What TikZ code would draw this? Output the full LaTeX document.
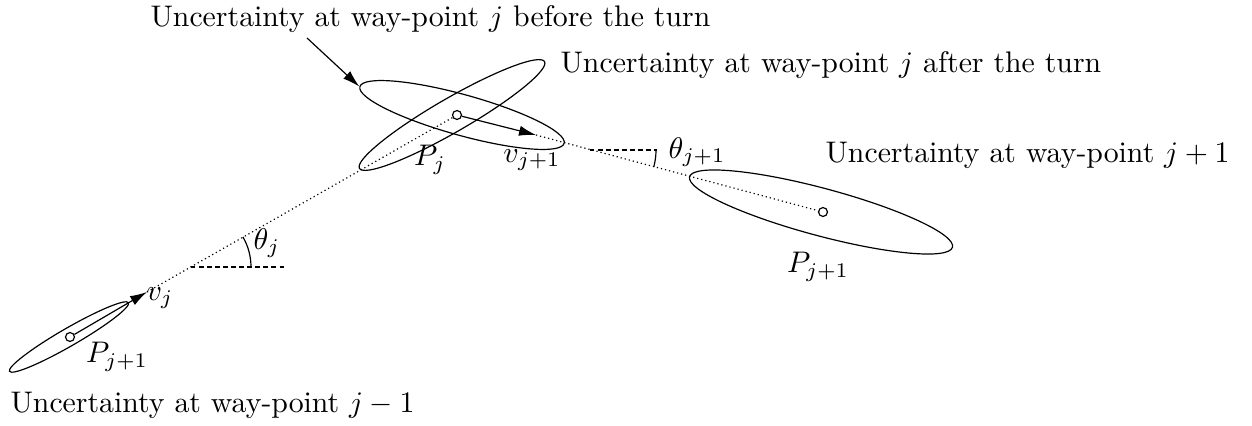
\documentclass[tikz,border=0pt]{standalone}
\usepackage{tikz}
\usetikzlibrary{arrows.meta,calc,shapes.geometric}
\tikzset{
  unc/.style={ellipse,draw,inner sep=0pt},
  wpt/.style={circle,draw,inner sep=0pt,minimum size=3pt},
  vel/.style={-{Latex[length=2mm,width=1.2mm]}},
  traj/.style={densely dotted},
  horiz/.style={dash pattern=on 1.5pt off 1.2pt},
  caption/.style={anchor=base west,inner sep=0pt}
}

\begin{document}
\begin{tikzpicture}[x=0.0118cm,y=-0.0118cm]
    \useasboundingbox (0,0) rectangle (1252,425);
    % way-points
    \node[wpt] (wa) at (70,337) {};
    \node[wpt] (wb) at (457,115) {};
    \node[wpt] (wc) at (823,212) {};
    % uncertainty ellipses
    \node[unc,rotate=30,minimum width=1.62cm,minimum height=0.21cm] (ea) at (69,337) {};
    \node[unc,rotate=30,minimum width=2.52cm,minimum height=0.40cm] (eb1) at (452,115) {};
    \node[unc,rotate=-15.5,minimum width=2.50cm,minimum height=0.48cm] (eb0) at (462,115) {};
    \node[unc,rotate=-15,minimum width=3.21cm,minimum height=0.56cm] (ec) at (821,212) {};
    % velocities and path
    \coordinate (va) at (147,292);
    \coordinate (ta) at (191,267);
    \coordinate (vb) at (536,135);
    \coordinate (tb) at (590,150);
    \draw[vel] (wa)--(va);
    \draw[vel] (wb)--(vb);
    \draw[traj] (va)--(wb);
    \draw[traj] (vb)--(wc);
    \draw[horiz] (ta)--++(94,0);
    \draw[horiz] (tb)--++(67,0);
    \draw ($(ta)+(60,0)$) arc[start angle=0,end angle=30,radius=0.708cm];
    \draw ($(tb)+(66,0)$) arc[start angle=0,end angle=-15,radius=0.779cm];
    % labels
    \node (lva) at (160,298) {$v_j$};
    \node (lta) at (267,243) {$\theta_j$};
    \node (lpa) at (117,357) {$P_{j+1}$};
    \node (lpb) at (430,160) {$P_j$};
    \node (lvb) at (532,160) {$v_{j+1}$};
    \node (ltb) at (697,152) {$\theta_{j+1}$};
    \node (lpc) at (818,267) {$P_{j+1}$};
    \node[caption] (cb0) at (150,27) {Uncertainty at way-point $j$ before the turn};
    \node[caption] (cb1) at (560,73) {Uncertainty at way-point $j$ after the turn};
    \node[caption] (cc) at (825,162) {Uncertainty at way-point $j+1$};
    \node[caption] (ca) at (10,412) {Uncertainty at way-point $j-1$};
    \coordinate (pin) at (307,38);
    \draw[vel] (pin)--(eb0.west);
\end{tikzpicture}
\end{document}
